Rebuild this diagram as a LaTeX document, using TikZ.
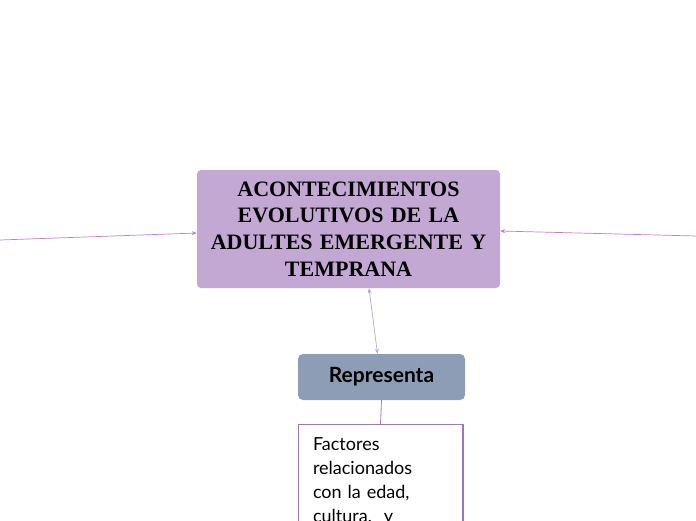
\documentclass[tikz,border=0pt]{standalone}
\usepackage{fontspec}
\setmainfont{Liberation Serif}
\newfontfamily\boxfont{Lato}
\usetikzlibrary{arrows.meta}
\definecolor{titlefill}{HTML}{C3A8D3}
\definecolor{repfill}{HTML}{8C9DB5}
\definecolor{linkpink}{HTML}{C77DC4}
\definecolor{linklav}{HTML}{B3A6DA}
\definecolor{notepurple}{HTML}{9D74C9}

\begin{document}
\begin{tikzpicture}[x=1pt,y=-1pt,>={Stealth[length=5pt,width=4pt]}]
  \tikzstyle{title}=[fill=titlefill,rounded corners=4pt,minimum width=303pt,minimum height=118pt,
    text width=300pt,align=center,inner sep=0pt,
    font=\fontsize{22}{26.7}\selectfont\bfseries]
  \tikzstyle{topic}=[fill=repfill,rounded corners=5pt,minimum width=167pt,minimum height=46pt,
    inner sep=0pt,font=\boxfont\fontsize{21}{24}\selectfont\bfseries]
  \tikzstyle{note}=[draw=notepurple,line width=0.6pt,fill=white,minimum width=165pt,
    text width=135pt,align=left,inner xsep=15pt,inner ysep=13pt,anchor=north,
    font=\boxfont\fontsize{18}{24}\selectfont]
  \clip (0,0) rectangle (696,520);
  \useasboundingbox (0,0) rectangle (696,520);

  \node[title] (main) at (348.5,229) {ACONTECIMIENTOS\\EVOLUTIVOS DE LA\\ADULTES EMERGENTE Y\\TEMPRANA};
  \node[topic] (rep) at (381.5,377) {Representa};
  \node[note] (fact) at (380.5,424) {Factores\\relacionados\\con la edad,\\cultura,\ \ y};
  \draw[notepurple,line width=1.6pt] ([xshift=-1pt]fact.north east) -- ([xshift=-1pt]fact.south east);

  \coordinate (l) at (0,240);
  \coordinate (r) at (696,236);
  \draw[->,linkpink,line width=0.7pt] (l) -- ([yshift=-4pt]main.west);
  \draw[->,linkpink,line width=0.7pt] (r) -- ([yshift=-2pt]main.east);
  \draw[<->,linklav,line width=0.7pt] ([xshift=-4pt]rep.north) -- ([xshift=20.5pt]main.south);
  \draw[notepurple,line width=0.8pt] (rep.south) -- (fact.north);
\end{tikzpicture}
\end{document}
